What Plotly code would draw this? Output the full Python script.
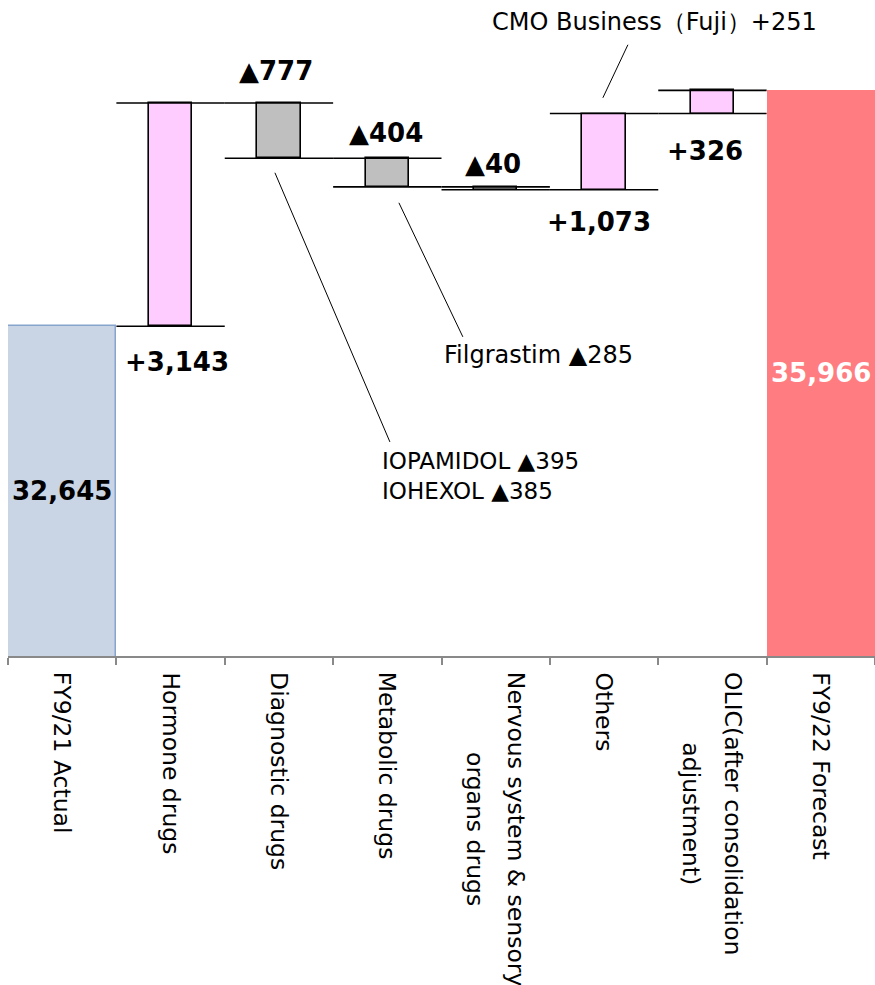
import plotly.graph_objects as go

# Sales bridge, FY9/21 actual -> FY9/22 forecast (million yen)
categories = [
    "FY9/21 Actual",
    "Hormone drugs",
    "Diagnostic drugs",
    "Metabolic drugs",
    "Nervous system & sensory<br>organs drugs",
    "Others",
    "OLIC(after consolidation<br>adjustment)",
    "FY9/22 Forecast",
]
start_total = 32645
changes = [3143, -777, -404, -40, 1073, 326]
end_total = 35966
change_labels = ["+3,143", "▲777", "▲404", "▲40", "+1,073", "+326"]
total_labels = ["32,645", "35,966"]

callouts = [
    "IOPAMIDOL ▲395<br>IOHEXOL ▲385",
    "Filgrastim ▲285",
    "CMO Business（Fuji）+251",
]

# label nudges in pixels (x, y) for the change labels
label_nudge = [(6, -19), (-3, 15), (-1, 8), (-3, 6), (-5, -15), (-7, -20)]

Y_MIN, Y_MAX = 28000, 37000
FONT = "DejaVu Sans"

# running levels for the floating bars
levels = [start_total]
for c in changes:
    levels.append(levels[-1] + c)

bases, heights, widths, fills, edges, edge_w = [], [], [], [], [], []
bases.append(0); heights.append(start_total); widths.append(1.0)
fills.append("#c9d5e4"); edges.append("#86a4cc"); edge_w.append(1.5)
for i, c in enumerate(changes):
    lo, hi = sorted((levels[i], levels[i + 1]))
    bases.append(lo); heights.append(hi - lo); widths.append(0.4)
    fills.append("#ffccff" if c > 0 else "#bfbfbf")
    edges.append("#000000"); edge_w.append(1.6)
bases.append(0); heights.append(end_total); widths.append(1.0)
fills.append("#ff7c80"); edges.append("#ff7c80"); edge_w.append(0)

fig = go.Figure(go.Bar(
    x=categories, y=heights, base=bases, width=widths,
    marker=dict(color=fills, line=dict(color=edges, width=edge_w)),
    hoverinfo="skip",
))

shapes = []
# level lines across each change column (start and end level)
for i in range(len(changes)):
    xc = i + 1
    for lvl in (levels[i], levels[i + 1]):
        shapes.append(dict(type="line", xref="x", yref="y",
                           x0=xc - 0.5, x1=xc + 0.5, y0=lvl, y1=lvl,
                           line=dict(color="#000000", width=1.6)))

# leader lines for the callouts
leaders = [
    ((1.963, 34806), (3.024, 31015)),
    ((3.107, 34383), (3.697, 32495)),
    ((5.220, 36609), (4.989, 35862)),
]
for (xa, ya), (xb, yb) in leaders:
    shapes.append(dict(type="line", xref="x", yref="y",
                       x0=xa, y0=ya, x1=xb, y1=yb,
                       line=dict(color="#000000", width=1)))

annotations = []
bold = dict(family=FONT, size=26, color="#000000")
# change labels: increases under the bar, decreases above it
for i, c in enumerate(changes):
    xc = i + 1
    dx, dy = label_nudge[i]
    annotations.append(dict(x=xc, y=levels[i], text="<b>%s</b>" % change_labels[i],
                            showarrow=False,
                            yanchor="top" if c > 0 else "bottom",
                            xshift=dx, yshift=dy, font=bold))
# totals, centred in the visible part of the bar
annotations.append(dict(x=0, y=(Y_MIN + start_total) / 2, text="<b>%s</b>" % total_labels[0],
                        showarrow=False, font=bold))
annotations.append(dict(x=len(categories) - 1, y=(Y_MIN + end_total) / 2,
                        text="<b>%s</b>" % total_labels[1], showarrow=False,
                        font=dict(family=FONT, size=26, color="#ffffff")))

# callout texts
normal = dict(family=FONT, size=24, color="#000000")
annotations.append(dict(x=2.932, y=30536, text=callouts[0], showarrow=False,
                        xanchor="left", yanchor="middle", align="left",
                        font=dict(family=FONT, size=23, color="#000000")))
annotations.append(dict(x=3.504, y=32241, text=callouts[1], showarrow=False,
                        xanchor="left", yanchor="middle", font=normal))
annotations.append(dict(x=3.946, y=36933, text=callouts[2], showarrow=False,
                        xanchor="left", yanchor="middle", font=normal))

# rotated category labels under the axis; wrapped labels use a larger
# base size (wider line pitch) with the glyphs themselves kept at LABEL_SIZE
LABEL_SIZE = 23.5
WRAP_BASE = 32
for i, cat in enumerate(categories):
    lines = cat.split("<br>")
    if len(lines) == 1:
        annotations.append(dict(x=i, y=0, yref="paper", text=cat, showarrow=False,
                                textangle=90, xanchor="center", yanchor="top",
                                yshift=-14,
                                font=dict(family=FONT, size=LABEL_SIZE, color="#000000")))
    else:
        txt = "<br>".join('<span style="font-size:%spx">%s</span>' % (LABEL_SIZE, ln)
                          for ln in lines)
        annotations.append(dict(x=i, y=0, yref="paper", text=txt, showarrow=False,
                                textangle=90, xanchor="center", yanchor="top",
                                yshift=-14, align="center",
                                font=dict(family=FONT, size=WRAP_BASE, color="#000000")))

fig.update_layout(
    width=875, height=985,
    margin=dict(l=8, r=0, t=17, b=329),
    paper_bgcolor="#ffffff", plot_bgcolor="#ffffff",
    showlegend=False,
    xaxis=dict(type="category", range=[-0.5, len(categories) - 0.5],
               tickson="boundaries", ticks="outside", ticklen=7,
               tickcolor="#898989", tickwidth=1.5,
               showline=True, linecolor="#898989", linewidth=1.5,
               showticklabels=False, showgrid=False, zeroline=False,
               fixedrange=True),
    yaxis=dict(range=[Y_MIN, Y_MAX], visible=False, showgrid=False,
               zeroline=False, fixedrange=True),
    shapes=shapes,
    annotations=annotations,
    bargap=0,
)

fig.write_html("out.html")
